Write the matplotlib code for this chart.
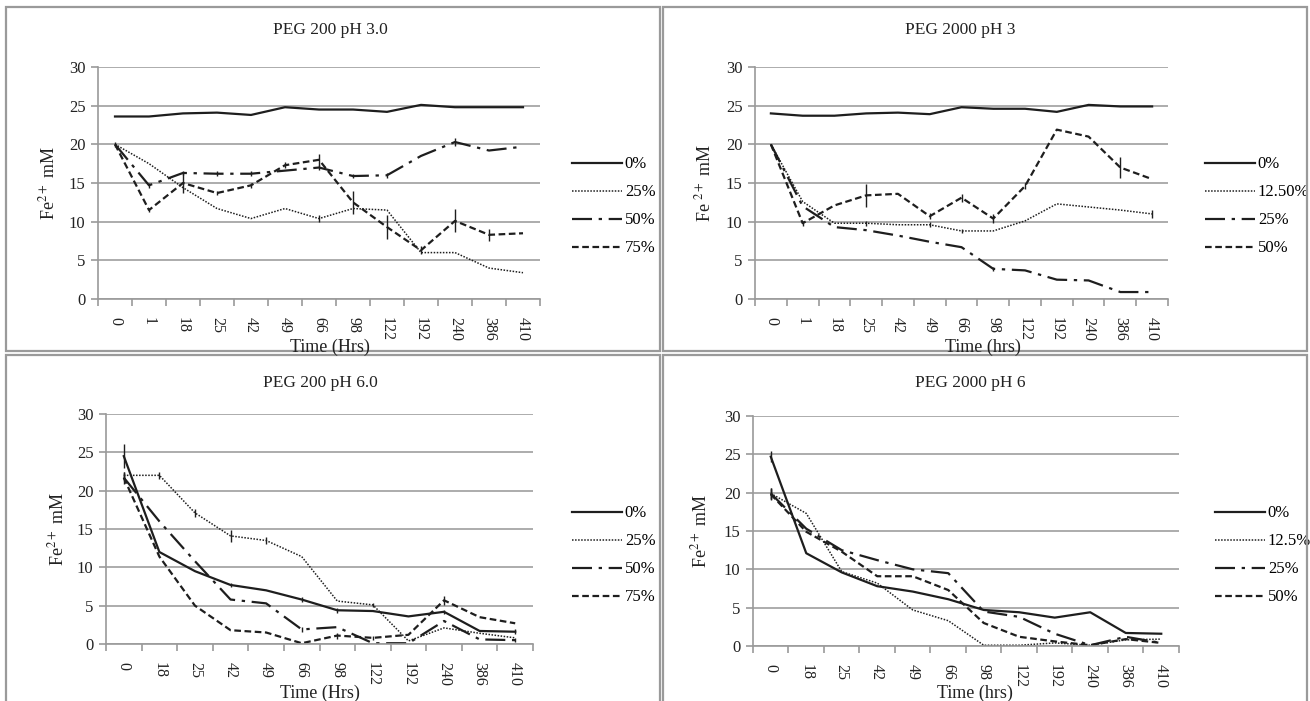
import numpy as np
import matplotlib
matplotlib.use('Agg')
from matplotlib import pyplot as plt
from matplotlib.patches import Rectangle

plt.rcParams['font.family'] = ['Liberation Serif', 'DejaVu Serif']
plt.rcParams['mathtext.fontset'] = 'stix'

# time points (categorical)
times_a = ['0', '1', '18', '25', '42', '49', '66', '98', '122', '192', '240', '386', '410']
times_b = ['0', '18', '25', '42', '49', '66', '98', '122', '192', '240', '386', '410']

# PEG 200 pH 3.0
p1_labels = ['0%', '25%', '50%', '75%']
p1_0 = [23.6, 23.6, 24.0, 24.1, 23.8, 24.8, 24.5, 24.5, 24.2, 25.1, 24.8, 24.8, 24.8]
p1_25 = [20.0, 17.5, 14.4, 11.7, 10.4, 11.7, 10.4, 11.7, 11.5, 6.0, 6.0, 4.0, 3.4]
p1_50 = [20.0, 14.7, 16.3, 16.2, 16.2, 16.6, 17.0, 15.9, 16.0, 18.5, 20.3, 19.2, 19.7]
p1_75 = [20.0, 11.5, 15.0, 13.7, 14.7, 17.3, 18.0, 12.5, 9.3, 6.3, 10.1, 8.3, 8.5]
p1_err_75 = [0.3, 0.3, 1.3, 0.3, 0.3, 0.4, 0.8, 1.5, 1.5, 0.5, 1.5, 0.8, 0.0]
p1_err_50 = [0.0, 0.3, 0.3, 0.3, 0.3, 0.0, 0.3, 0.3, 0.3, 0.0, 0.5, 0.0, 0.0]
p1_err_25 = [0.0, 0.0, 0.0, 0.0, 0.0, 0.0, 0.4, 0.0, 0.0, 0.0, 0.0, 0.0, 0.0]

# PEG 2000 pH 3
p2_labels = ['0%', '12.50%', '25%', '50%']
p2_0 = [24.0, 23.7, 23.7, 24.0, 24.1, 23.9, 24.8, 24.6, 24.6, 24.2, 25.1, 24.9, 24.9]
p2_125 = [20.0, 12.6, 9.8, 9.8, 9.6, 9.6, 8.8, 8.8, 10.1, 12.3, 11.9, 11.5, 11.0]
p2_25 = [20.0, 12.0, 9.3, 8.9, 8.2, 7.4, 6.7, 3.9, 3.7, 2.5, 2.4, 0.9, 0.9]
p2_50 = [20.0, 9.8, 12.1, 13.4, 13.6, 10.7, 13.1, 10.4, 14.6, 21.9, 21.0, 17.0, 15.5]
p2_err_50 = [0.0, 0.3, 0.0, 1.5, 0.0, 0.4, 0.5, 0.6, 0.4, 0.0, 0.0, 1.3, 0.0]
p2_err_125 = [0.0, 0.0, 0.0, 0.3, 0.0, 0.3, 0.3, 0.0, 0.0, 0.0, 0.0, 0.0, 0.5]
p2_err_25 = [0.0, 0.0, 0.0, 0.0, 0.0, 0.0, 0.0, 0.3, 0.0, 0.0, 0.0, 0.0, 0.0]

# PEG 200 pH 6.0
p3_labels = ['0%', '25%', '50%', '75%']
p3_0 = [24.5, 12.0, 9.5, 7.7, 7.0, 5.8, 4.4, 4.3, 3.6, 4.2, 1.7, 1.6]
p3_25 = [22.0, 22.0, 17.1, 14.1, 13.5, 11.4, 5.6, 5.1, 0.4, 2.1, 1.4, 0.8]
p3_50 = [21.7, 16.0, 10.8, 5.8, 5.3, 1.9, 2.2, 0.1, 0.1, 3.0, 0.6, 0.5]
p3_75 = [21.7, 11.4, 5.0, 1.8, 1.5, 0.1, 1.1, 0.8, 1.2, 5.7, 3.5, 2.7]
p3_err_0 = [1.6, 0.0, 0.0, 0.3, 0.0, 0.3, 0.3, 0.0, 0.0, 0.3, 0.0, 0.3]
p3_err_25 = [0.5, 0.5, 0.5, 0.8, 0.5, 0.0, 0.0, 0.3, 0.0, 0.0, 0.0, 0.0]
p3_err_50 = [0.8, 0.0, 0.0, 0.0, 0.0, 0.3, 0.0, 0.0, 0.0, 0.0, 0.0, 0.3]
p3_err_75 = [0.5, 0.0, 0.0, 0.0, 0.0, 0.0, 0.4, 0.3, 0.0, 0.6, 0.0, 0.0]

# PEG 2000 pH 6
p4_labels = ['0%', '12.5%', '25%', '50%']
p4_0 = [24.7, 12.1, 9.6, 7.8, 7.1, 6.1, 4.7, 4.4, 3.7, 4.4, 1.7, 1.6]
p4_125 = [19.9, 17.3, 9.7, 8.2, 4.7, 3.3, 0.1, 0.1, 0.4, 0.1, 0.8, 0.9]
p4_25 = [19.9, 15.3, 12.5, 11.2, 10.0, 9.5, 4.5, 3.8, 1.6, 0.1, 1.2, 0.4]
p4_50 = [19.8, 14.9, 12.3, 9.1, 9.1, 7.3, 3.0, 1.2, 0.6, 0.1, 0.9, 0.4]
p4_err_0 = [0.7, 0, 0, 0, 0, 0, 0, 0, 0, 0, 0, 0]
p4_err_x = [0.7, 0, 0, 0, 0, 0, 0, 0, 0, 0, 0, 0]

W, H = 1310, 701
fig = plt.figure(figsize=(W / 100, H / 100), dpi=100)
fig.patch.set_facecolor('white')

# panel frames
for (x0, y0, x1, y1) in [(6, 7, 660, 351), (663, 7, 1307, 351), (6, 355, 660, 703), (663, 355, 1307, 703)]:
    fig.add_artist(Rectangle((x0 / W, 1 - y1 / H), (x1 - x0) / W, (y1 - y0) / H,
                             transform=fig.transFigure, fill=False, ec='#9a9a9a', lw=1.6))

dark = '#1e1e1e'
txt = '#222222'
styles = [
    dict(ls='-', lw=1.6),
    dict(ls=(0, (1, 1)), lw=1.1),
    dict(ls=(0, (9, 3, 1.5, 3)), lw=1.6),
    dict(ls=(0, (3, 1.6)), lw=1.6),
]


def panel(box, title, title_xy, ylab, ylab_x, xlab, xlab_xy, cats, series, errs, labels, leg_xy):
    l, r, t, b = box
    ax = fig.add_axes([l / W, 1 - b / H, (r - l) / W, (b - t) / H])
    x = np.arange(len(cats))
    for vals, err, st, lab in zip(series, errs, styles, labels):
        ax.plot(x, vals, color=dark, label=lab, **st)
        if err is not None:
            ax.errorbar(x, vals, yerr=err, fmt='none', ecolor=dark, elinewidth=1.0, capsize=0)
    ax.set_xlim(-0.5, len(cats) - 0.5)
    ax.set_ylim(0, 30)
    ax.set_yticks(range(0, 31, 5))
    ax.yaxis.grid(True, color='#a6a6a6', lw=1.3)
    ax.set_axisbelow(True)
    for s in ['top', 'right']:
        ax.spines[s].set_visible(False)
    for s in ['left', 'bottom']:
        ax.spines[s].set_color('#9a9a9a')
        ax.spines[s].set_linewidth(1.2)
    ax.set_xticks(np.arange(-0.5, len(cats), 1.0))
    ax.set_xticklabels([])
    ax.set_xticks(x, minor=True)
    ax.set_xticklabels(cats, minor=True, rotation=-90, fontsize=11.5, color=txt)
    ax.tick_params(axis='x', which='major', length=5, color='#9a9a9a', width=1.2)
    ax.tick_params(axis='x', which='minor', length=0, pad=13)
    ax.tick_params(axis='y', length=5, color='#9a9a9a', width=1.2, labelsize=12, labelcolor=txt, pad=4)
    fig.text(title_xy[0] / W, 1 - title_xy[1] / H, title, ha='center', va='center', fontsize=12.5, color=txt)
    fig.text(ylab_x / W, 1 - (t + b) / 2 / H, ylab, ha='center', va='center', rotation=90, fontsize=13, color=txt)
    fig.text(xlab_xy[0] / W, 1 - xlab_xy[1] / H, xlab, ha='center', va='center', fontsize=13, color=txt)
    ax.legend(loc='upper left', bbox_to_anchor=(leg_xy[0] / W, 1 - leg_xy[1] / H),
              bbox_transform=fig.transFigure, frameon=False, fontsize=12,
              handlelength=3.0, handletextpad=0.15, labelspacing=0.72, borderpad=0)
    return ax


panel((98, 540, 67, 299), 'PEG 200 pH 3.0', (330, 30), r'Fe$^{2+}$ mM', 48, 'Time (Hrs)', (330, 347),
      times_a, [p1_0, p1_25, p1_50, p1_75], [None, p1_err_25, p1_err_50, p1_err_75], p1_labels, (564, 148))
panel((755, 1168, 67, 299), 'PEG 2000 pH 3', (960, 30), r'Fe $^{2+}$ mM', 704, 'Time (hrs)', (983, 347),
      times_a, [p2_0, p2_125, p2_25, p2_50], [None, p2_err_125, p2_err_25, p2_err_50], p2_labels, (1197, 148))
panel((106, 533, 414, 644), 'PEG 200 pH 6.0', (320, 383), r'Fe$^{2+}$ mM', 57, 'Time (Hrs)', (320, 693),
      times_b, [p3_0, p3_25, p3_50, p3_75], [p3_err_0, p3_err_25, p3_err_50, p3_err_75], p3_labels, (564, 497))
panel((753, 1179, 416, 646), 'PEG 2000 pH 6', (970, 383), r'Fe$^{2+}$ mM', 700, 'Time (hrs)', (975, 693),
      times_b, [p4_0, p4_125, p4_25, p4_50], [p4_err_0, p4_err_x, p4_err_x, p4_err_x], p4_labels, (1207, 497))

plt.savefig('out.png', dpi=100)
